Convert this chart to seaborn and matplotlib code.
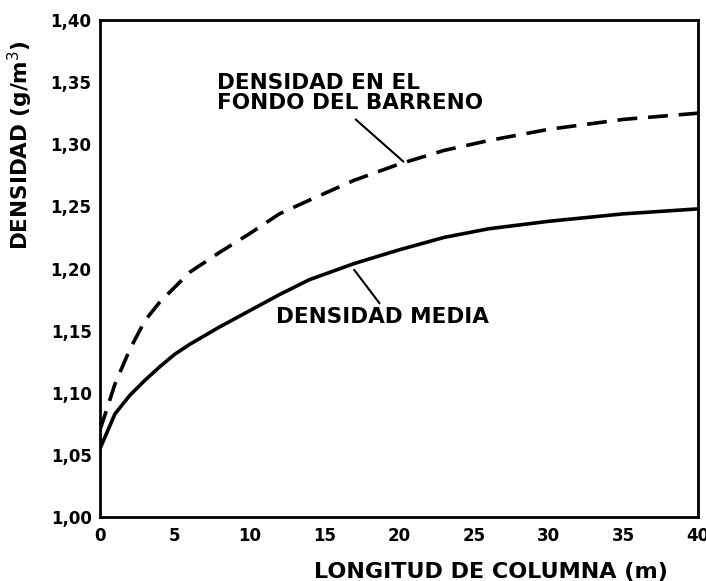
import matplotlib
matplotlib.use("Agg")
import matplotlib.pyplot as plt
import pandas as pd
import seaborn as sns

# Values
longitud = [0, 1, 2, 3, 4, 5, 6, 8, 10, 12, 14, 17, 20, 23, 26, 30, 35, 40]
densidad_fondo = [1.070, 1.107, 1.135, 1.158, 1.173, 1.185, 1.197, 1.213, 1.228,
                  1.244, 1.255, 1.271, 1.284, 1.295, 1.303, 1.312, 1.320, 1.325]
densidad_media = [1.055, 1.083, 1.098, 1.110, 1.121, 1.131, 1.139, 1.153, 1.166,
                  1.179, 1.191, 1.204, 1.215, 1.225, 1.232, 1.238, 1.244, 1.248]

x_ticks = [0, 5, 10, 15, 20, 25, 30, 35, 40]
y_ticks = [1.00, 1.05, 1.10, 1.15, 1.20, 1.25, 1.30, 1.35, 1.40]
y_tick_labels = ['1,00', '1,05', '1,10', '1,15', '1,20', '1,25', '1,30', '1,35', '1,40']

df = pd.DataFrame({'Longitud': longitud,
                   'Fondo': densidad_fondo,
                   'Media': densidad_media})

sns.set_style("white")
plt.rcParams['font.family'] = ['DejaVu Sans']
plt.rcParams['text.color'] = 'black'
plt.rcParams['axes.labelcolor'] = 'black'

fig = plt.figure(figsize=(7.06, 5.81), dpi=100)
ax = fig.add_axes([0.1416, 0.110, 0.8471, 0.8556])

sns.lineplot(data=df, x='Longitud', y='Fondo', ax=ax, color='black',
             linewidth=2.6, linestyle=(0, (5.5, 3.0)))
sns.lineplot(data=df, x='Longitud', y='Media', ax=ax, color='black',
             linewidth=2.6)

ax.set_xlim(0, 40)
ax.set_ylim(1.00, 1.40)
ax.set_xticks(x_ticks)
ax.set_yticks(y_ticks)
ax.set_yticklabels(y_tick_labels)

for side in ['left', 'bottom', 'top', 'right']:
    ax.spines[side].set_visible(True)
    ax.spines[side].set_color('black')
    ax.spines[side].set_linewidth(2.0)

ax.tick_params(axis='y', direction='in', length=12, width=1.8, pad=6,
               labelsize=12, colors='black')
ax.tick_params(axis='x', direction='in', length=7, width=1.5, pad=7,
               labelsize=12, colors='black')
for lbl in ax.get_xticklabels() + ax.get_yticklabels():
    lbl.set_fontweight('bold')

ax.set_xlabel('LONGITUD DE COLUMNA (m)', fontsize=16, fontweight='bold')
ax.xaxis.set_label_coords(0.654, -0.090)
ax.set_ylabel('DENSIDAD (g/m$^3$)', fontsize=15.5, fontweight='bold')
ax.yaxis.set_label_coords(-0.109, 0.748)

# Annotations with leader lines
ax.text(7.8, 1.357, 'DENSIDAD EN EL\nFONDO DEL BARRENO', fontsize=15.5,
        fontweight='bold', va='top', ha='left', linespacing=1.0)
ax.plot([17.1, 20.3], [1.320, 1.286], color='black', linewidth=1.5)

ax.text(11.8, 1.161, 'DENSIDAD MEDIA', fontsize=15.5, fontweight='bold',
        va='center', ha='left')
ax.plot([17.0, 18.7], [1.199, 1.172], color='black', linewidth=1.5)

fig.savefig('out.png', dpi=100)
